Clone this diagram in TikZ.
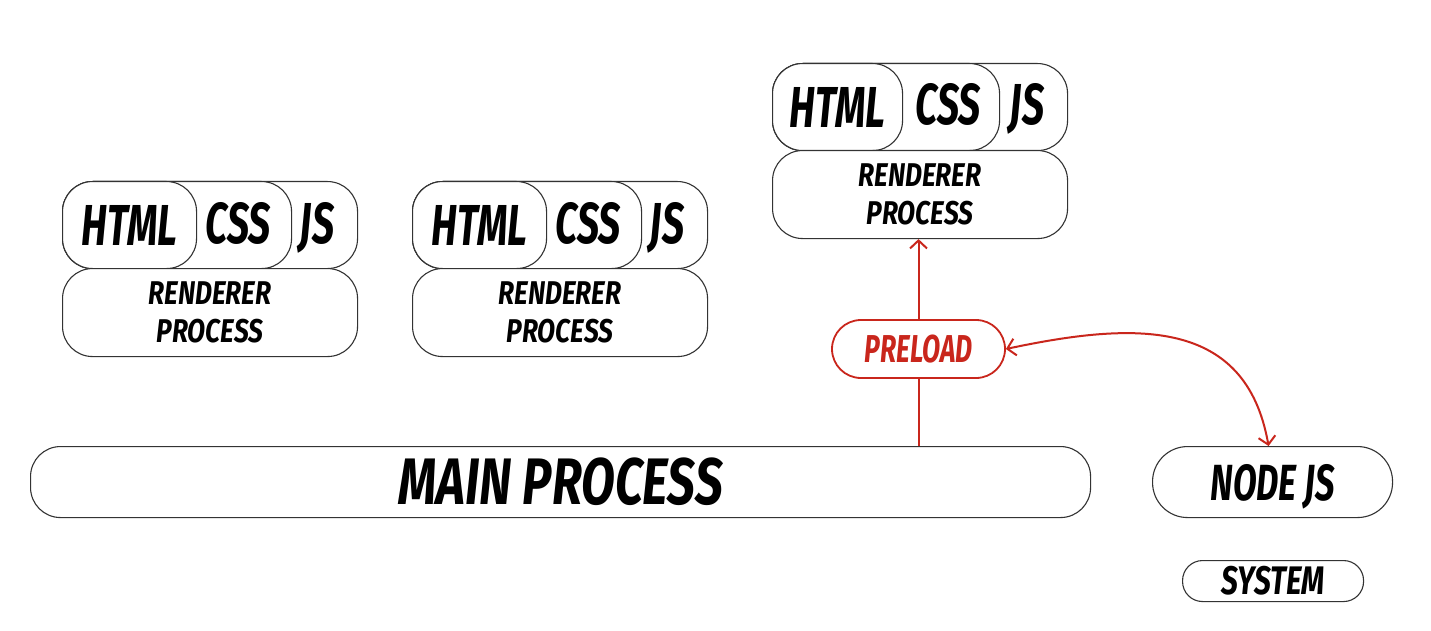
\documentclass[tikz,border=0pt]{standalone}
\usepackage{fontspec}
\usetikzlibrary{arrows.meta,calc}
\newfontfamily\dfont{Fira Sans}[FakeStretch=0.68]
\newfontfamily\wfont{Fira Sans}[FakeStretch=0.75]
\newfontfamily\rfont{Fira Sans}[FakeStretch=0.8]
\definecolor{ered}{HTML}{C9261C}
\definecolor{eline}{HTML}{333333}
\tikzset{
  box/.style={draw=eline, line width=1.1bp, fill=white, inner sep=0pt, anchor=north west},
  lbl/.style={inner sep=0pt, anchor=base},
  redline/.style={draw=ered, line width=2bp},
  barb/.tip={Straight Barb[length=8bp, width=17bp, line width=2bp]}
}
\begin{document}
\begin{tikzpicture}[x=1bp, y=-1bp]
\useasboundingbox (0,0) rectangle (1431,631);
\fill[white] (0,0) rectangle (1431,631);
% renderer groups
\foreach \i/\xo/\yo/\ch/\hh in {1/62/181/229/134, 2/412/181/229/134, 3/772/63/227/130}{
  \node[box, rounded corners=30bp, minimum width=295bp, minimum height=87bp] (js\i) at (\xo,\yo) {};
  \node[box, rounded corners=30bp, minimum width=\ch bp, minimum height=87bp] (css\i) at (\xo,\yo) {};
  \node[box, rounded corners=30bp, minimum width=\hh bp, minimum height=87bp, font=\dfont\bfseries\itshape\fontsize{58}{58}\selectfont] (html\i) at (\xo,\yo) {HTML};
  \node[box, rounded corners=30bp, minimum width=295bp, minimum height=88bp, align=center, font=\rfont\bfseries\itshape\fontsize{33}{38}\selectfont] (rp\i) at (\xo,\yo+87) {RENDERER\\PROCESS};
  \node[lbl, font=\dfont\bfseries\itshape\fontsize{58}{58}\selectfont] (csst\i) at ($(\xo,\yo)+(176,62)$) {CSS};
  \node[lbl, font=\dfont\bfseries\itshape\fontsize{58}{58}\selectfont] (jst\i) at ($(\xo,\yo)+(255,62)$) {JS};
}
% main process
\node[box, rounded corners=30bp, minimum width=1060bp, minimum height=71bp, font=\wfont\bfseries\itshape\fontsize{66}{66}\selectfont] (main) at (30,446) {MAIN PROCESS};
% node js
\node[box, rounded corners=35bp, minimum width=240bp, minimum height=71bp, text depth=0pt, font=\dfont\bfseries\itshape\fontsize{51}{51}\selectfont] (nodejs) at (1152,446) {NODE JS};
% system
\node[box, rounded corners=20bp, minimum width=181bp, minimum height=41bp, font=\wfont\bfseries\itshape\fontsize{40}{40}\selectfont] (system) at (1182,560) {SYSTEM};
% preload
\node[box, draw=ered, text=ered, line width=1.8bp, rounded corners=29bp, minimum width=173bp, minimum height=58bp, anchor=center, font=\dfont\bfseries\itshape\fontsize{39}{39}\selectfont] (preload) at (918.5,349) {PRELOAD};
% connectors
\draw[redline] (preload.south) -- (preload.south |- main.north);
\draw[redline, -barb] (preload.north) -- (preload.north |- rp3.south);
\draw[redline, barb-barb] (preload.east) to[out=12, in=100, looseness=1.2] ([xshift=-4bp]nodejs.north);
\end{tikzpicture}
\end{document}
